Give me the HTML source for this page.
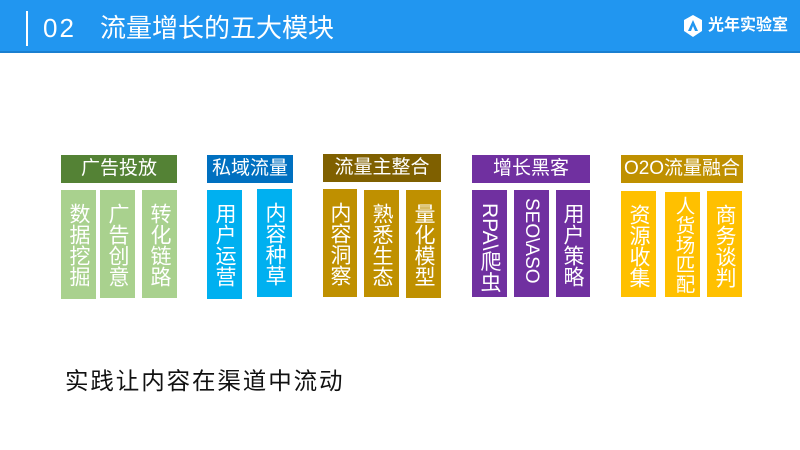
<!DOCTYPE html><html><head><meta charset="utf-8"><style>
body{margin:0;width:800px;height:450px;background:#fff;position:relative;overflow:hidden;font-family:"Liberation Sans","Noto Sans CJK SC",sans-serif}
.bar{position:absolute;left:0;top:0;width:800px;height:51px;background:#2196F0;border-bottom:2px solid #1a7fd0}
.a{position:absolute}
.h{position:absolute;height:28px;color:#fff;font-size:19px;line-height:28px;text-align:center}
.c{position:absolute;color:#fff;font-size:21px;writing-mode:vertical-rl;line-height:35px;padding-top:13px;box-sizing:border-box;text-align:start;white-space:nowrap;overflow:hidden}
</style></head><body>
<div class="bar"></div>
<div class="a" style="left:26px;top:11px;width:2px;height:35px;background:#fff"></div>
<div class="a" style="left:43px;top:10px;color:#fff;font-size:26px;line-height:36px;font-weight:300;letter-spacing:2px">02</div>
<div class="a" style="left:100px;top:10px;color:#fff;font-size:26px;line-height:36px;letter-spacing:0px">流量增长的五大模块</div>
<svg class="a" style="left:683px;top:15px" width="20" height="22" viewBox="0 0 20 22"><polygon points="10,0 19,5 19,16 10,22 1,16 1,5" fill="#fff"/><path d="M10 5 L5 16 L8 16 L10 11 L12 16 L15 16 Z" fill="#2196F0"/></svg>
<div class="a" style="left:708px;top:15px;color:#fff;font-size:16px;font-weight:bold;line-height:22px">光年实验室</div>

<div class="h" style="left:61px;top:155px;width:116px;background:#548235">广告投放</div>
<div class="c" style="left:61px;top:190px;width:35px;height:109px;background:#A9D18E">数据挖掘</div>
<div class="c" style="left:100px;top:190px;width:35px;height:108px;background:#A9D18E">广告创意</div>
<div class="c" style="left:142px;top:190px;width:35px;height:108px;background:#A9D18E">转化链路</div>

<div class="h" style="left:207px;top:155px;width:86px;background:#0070C0">私域流量</div>
<div class="c" style="left:207px;top:190px;width:35px;height:109px;background:#00B0F0">用户运营</div>
<div class="c" style="left:257px;top:189px;width:35px;height:108px;background:#00B0F0">内容种草</div>

<div class="h" style="left:323px;top:154px;width:118px;background:#7F6000">流量主整合</div>
<div class="c" style="left:323px;top:189px;width:34px;height:108px;background:#BF9000">内容洞察</div>
<div class="c" style="left:364px;top:190px;width:35px;height:107px;background:#BF9000">熟悉生态</div>
<div class="c" style="left:406px;top:190px;width:35px;height:108px;background:#BF9000">量化模型</div>

<div class="h" style="left:472px;top:155px;width:118px;background:#7030A0">增长黑客</div>
<div class="c" style="left:472px;top:190px;width:35px;height:107px;background:#7030A0">RPA\爬虫</div>
<div class="c" style="left:514px;top:190px;width:35px;height:107px;background:#7030A0;font-size:19px;padding-top:8px">SEO\ASO</div>
<div class="c" style="left:556px;top:190px;width:34px;height:107px;background:#7030A0">用户策略</div>

<div class="h" style="left:621px;top:155px;width:122px;background:#BF9000">O2O流量融合</div>
<div class="c" style="left:621px;top:191px;width:35px;height:106px;background:#FFC000">资源收集</div>
<div class="c" style="left:665px;top:192px;width:35px;height:105px;background:#FFC000;padding-top:4px;font-size:19.5px">人货场匹配</div>
<div class="c" style="left:707px;top:191px;width:35px;height:106px;background:#FFC000">商务谈判</div>

<div class="a" style="left:65px;top:366px;font-size:23.5px;line-height:30px;color:#111;letter-spacing:1.9px">实践让内容在渠道中流动</div>
</body></html>
